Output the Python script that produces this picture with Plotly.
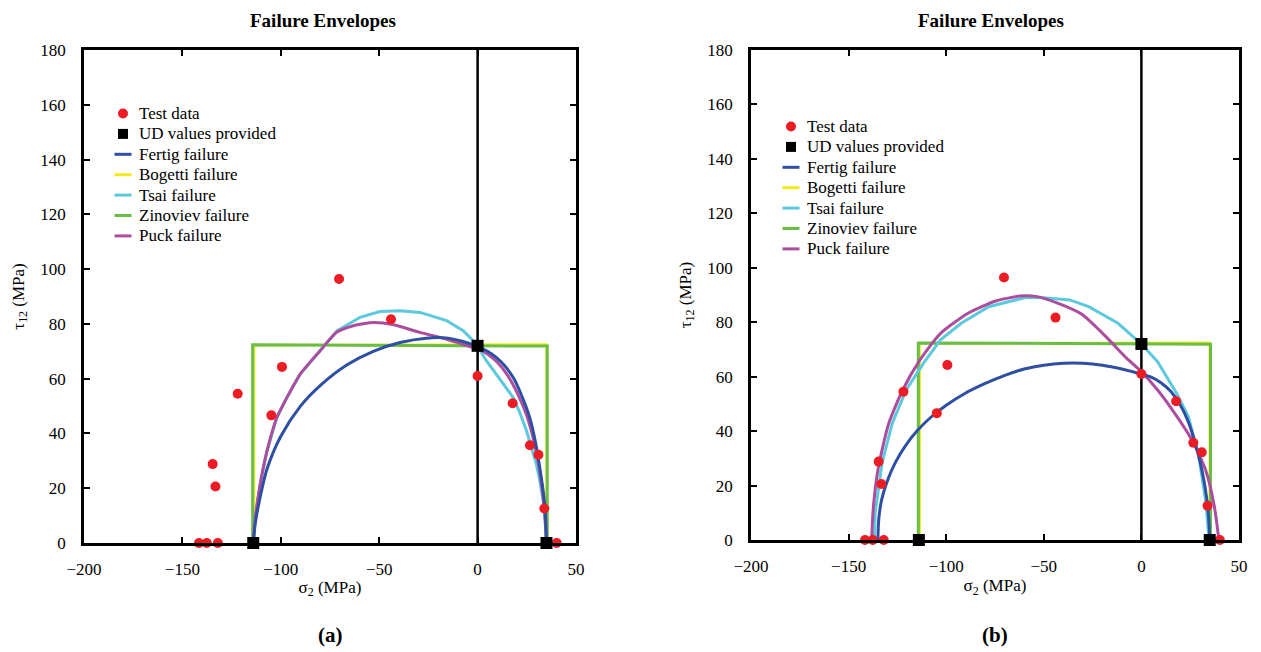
import plotly.graph_objects as go

FONT = "Liberation Serif"

# ---- measured test points (same specimens in both panels) ----
test_s2 = [-141.6, -137.6, -132.0, -134.6, -133.2, -121.9, -104.8, -99.4,
           -70.4, -44.0, 0.0, 17.8, 26.6, 30.9, 33.9, 40.2]
test_t12 = [0, 0, 0, 28.8, 20.6, 54.5, 46.6, 64.3,
            96.4, 81.7, 61.0, 51.0, 35.7, 32.2, 12.6, 0]

# ---- unidirectional strengths supplied ----
ud_s2 = [-114, 0, 35]
ud_t12 = [0, 72, 0]

# ---- Bogetti and Zinoviev envelopes (max-stress boxes) ----
bog_s2 = [-113.6, -113.6, 35.0, 35.0]
bog_t12 = [0, 72.2, 72.5, 0]
zin_s2 = [-114.3, -114.3, 35.4, 35.4]
zin_t12 = [0, 72.4, 71.9, 0]

# ---- panel (a) envelopes ----
fert_a_s2 = [-114, -113, -111, -107, -100, -90, -80, -66.5, -53, -39.4, -26, -15,
             -7, 0, 5, 9.6, 14, 18.1, 22, 26.5, 29.5, 31.6, 33.5, 34.5, 35]
fert_a_t12 = [0, 7, 15, 27, 39, 50, 57.5, 65, 70, 73.2, 74.8, 74.8,
              73.5, 71.8, 70, 67.7, 64.5, 60.4, 54.5, 45.8, 36.5, 27.5, 18, 10, 0]

tsai_a_s2 = [-114, -113, -110.5, -107, -102, -96.9, -90.2, -80, -71.5, -59.7, -49.6,
             -39.4, -29.3, -15.7, -7.3, -1.4, 0, 4, 9.6, 14, 18.1, 21.5, 24.9, 27.5,
             29.9, 31.8, 33.3, 34.3, 35]
tsai_a_t12 = [0, 9, 21.4, 33.6, 45.8, 53.1, 61.6, 70.2, 77.4, 82.4, 84.5,
              84.8, 84.2, 81.2, 77.5, 73.2, 71.8, 67, 61.6, 57, 53.1, 47.5, 40.9, 34.5,
              28.7, 22, 15.3, 8, 0]

puck_a_s2 = [-114, -113, -110.5, -107, -102, -96.9, -90.2, -80, -71.5, -63.1, -53,
             -42.8, -29.3, -15.7, -2.2, 0, 5, 10, 15, 20, 25, 29, 32, 34, 35]
puck_a_t12 = [0, 9, 21.4, 33.6, 45.8, 53.1, 61.6, 70.2, 77, 79.3, 80.5,
              79.7, 76.9, 74.4, 71.4, 71, 69, 66, 61.5, 55, 46.5, 36, 24, 12, 0]

# ---- panel (b) envelopes ----
fert_b_s2 = [-135, -134.5, -133, -130, -126, -121, -115, -108, -100, -90, -80, -70,
             -60, -50, -40, -30, -20, -10, 0, 5, 10, 15, 20, 24, 27, 30, 32, 33.5,
             34.5, 35]
fert_b_t12 = [0, 8, 15, 22, 28.5, 34.5, 40, 45, 49.5, 54, 57.5, 60.5,
              62.8, 64.2, 64.9, 64.9, 64.2, 62.8, 60.9, 59.8, 57.8, 54.6, 49.5, 43.5, 37, 29, 22, 15,
              8, 0]

tsai_b_s2 = [-136.8, -136.4, -132.9, -127.6, -120.5, -111.7, -102.9, -92.3, -78.2, -67.6,
             -58.8, -50, -36.7, -27, -12, 0, 8.3, 18, 24.1, 29.4, 32.9, 34.7]
tsai_b_t12 = [0, 9.8, 28.2, 42.9, 55.1, 64.9, 73.5, 79.6, 85.7, 87.5,
              89.2, 89, 88.2, 85.7, 79.6, 72, 65.5, 53.9, 45.3, 30.6, 14.7, 0]

puck_b_s2 = [-138.2, -137.3, -134.7, -129.4, -122.3, -113.5, -102.9, -88.8, -74.6, -62.3,
             -53.5, -42.9, -30.5, -18.2, -7.6, 0, 8.3, 17.1, 25.9, 32.9, 37.4, 39.7]
puck_b_t12 = [0, 12.2, 26.9, 42.9, 55.1, 66.1, 75.9, 83.3, 87.8, 89.6,
              89.4, 87, 82.9, 74.7, 66.8, 61.8, 55.1, 46.5, 36.7, 25.7, 12.2, 0]

# ---- legend entries ----
legend_names = ["Test data", "UD values provided", "Fertig failure", "Bogetti failure",
                "Tsai failure", "Zinoviev failure", "Puck failure"]

C_RED = "#EC1C24"
C_FERT = "#2F4FA2"
C_BOG = "#F2EA1A"
C_TSAI = "#5DC9DD"
C_ZIN = "#6ABD45"
C_PUCK = "#AC4E9E"
legend_kinds = [("dot", C_RED), ("square", "black"), ("line", C_FERT), ("line", C_BOG),
                ("line", C_TSAI), ("line", C_ZIN), ("line", C_PUCK)]

W, H = 1261, 652


def px_x(p):
    return p / W


def px_y(p):
    return (H - p) / H


panels = [
    dict(xa="x", ya="y", fert=(fert_a_s2, fert_a_t12), tsai=(tsai_a_s2, tsai_a_t12),
         puck=(puck_a_s2, puck_a_t12), tx=323, leg_sym=123, leg_txt=137, leg_y0=113.5),
    dict(xa="x2", ya="y2", fert=(fert_b_s2, fert_b_t12), tsai=(tsai_b_s2, tsai_b_t12),
         puck=(puck_b_s2, puck_b_t12), tx=991, leg_sym=791, leg_txt=805, leg_y0=126.5),
]

fig = go.Figure()
for p in panels:
    common = dict(xaxis=p["xa"], yaxis=p["ya"], cliponaxis=False, showlegend=False,
                  hoverinfo="skip")
    fig.add_trace(go.Scatter(x=bog_s2, y=bog_t12, mode="lines", name="Bogetti failure",
                             line=dict(color=C_BOG, width=2.5), **common))
    fig.add_trace(go.Scatter(x=zin_s2, y=zin_t12, mode="lines", name="Zinoviev failure",
                             line=dict(color=C_ZIN, width=3), **common))
    fig.add_trace(go.Scatter(x=[0, 0], y=[0, 180], mode="lines",
                             line=dict(color="black", width=2.5), **common))
    fig.add_trace(go.Scatter(x=p["tsai"][0], y=p["tsai"][1], mode="lines", name="Tsai failure",
                             line=dict(color=C_TSAI, width=3), **common))
    fig.add_trace(go.Scatter(x=p["puck"][0], y=p["puck"][1], mode="lines", name="Puck failure",
                             line=dict(color=C_PUCK, width=3, shape="spline", smoothing=0.6),
                             **common))
    fig.add_trace(go.Scatter(x=p["fert"][0], y=p["fert"][1], mode="lines", name="Fertig failure",
                             line=dict(color=C_FERT, width=3, shape="spline", smoothing=0.8),
                             **common))
    fig.add_trace(go.Scatter(x=test_s2, y=test_t12, mode="markers", name="Test data",
                             marker=dict(color=C_RED, size=10, symbol="circle"), **common))
    fig.add_trace(go.Scatter(x=ud_s2, y=ud_t12, mode="markers", name="UD values provided",
                             marker=dict(color="black", size=12, symbol="square"), **common))

    # key, drawn in page pixels
    for i, (name, (kind, col)) in enumerate(zip(legend_names, legend_kinds)):
        yy = p["leg_y0"] + i * 20.4
        xs = p["leg_sym"]
        if kind == "dot":
            fig.add_shape(type="circle", xref="paper", yref="paper",
                          x0=px_x(xs - 5), x1=px_x(xs + 5), y0=px_y(yy + 5), y1=px_y(yy - 5),
                          fillcolor=col, line=dict(width=0))
        elif kind == "square":
            fig.add_shape(type="rect", xref="paper", yref="paper",
                          x0=px_x(xs - 5), x1=px_x(xs + 5), y0=px_y(yy + 5), y1=px_y(yy - 5),
                          fillcolor=col, line=dict(width=0))
        else:
            fig.add_shape(type="line", xref="paper", yref="paper",
                          x0=px_x(xs - 8.5), x1=px_x(xs + 8.5), y0=px_y(yy), y1=px_y(yy),
                          line=dict(color=col, width=3))
        fig.add_annotation(text=name, xref="paper", yref="paper", x=px_x(p["leg_txt"]),
                           y=px_y(yy), xanchor="left", yanchor="middle", showarrow=False,
                           font=dict(family=FONT, size=17, color="black"))

    fig.add_annotation(text="<b>Failure Envelopes</b>", xref="paper", yref="paper",
                       x=px_x(p["tx"]), y=px_y(20), xanchor="center", yanchor="middle",
                       showarrow=False, font=dict(family=FONT, size=19, color="black"))

for cx, lab in [(330, "(a)"), (995, "(b)")]:
    fig.add_annotation(text=f"<b>{lab}</b>", xref="paper", yref="paper",
                       x=px_x(cx), y=px_y(635), xanchor="center", yanchor="middle",
                       showarrow=False, font=dict(family=FONT, size=21, color="black"))

fig.update_layout(
    template="none",
    width=W, height=H,
    margin=dict(l=0, r=0, t=0, b=0),
    paper_bgcolor="white", plot_bgcolor="white",
    font=dict(family=FONT, size=17, color="black"),
    xaxis=dict(domain=[px_x(84), px_x(576)], anchor="y"),
    yaxis=dict(domain=[px_y(543), px_y(50)], anchor="x"),
    xaxis2=dict(domain=[px_x(751), px_x(1239)], anchor="y2"),
    yaxis2=dict(domain=[px_y(540), px_y(50)], anchor="x2"),
    showlegend=False,
)

frame = dict(
    showline=True, linecolor="black", linewidth=2.5, mirror="ticks",
    ticks="inside", ticklen=6, tickwidth=2, tickcolor="black",
    showgrid=False, zeroline=False, automargin=False,
)
fig.update_xaxes(frame, range=[-200, 50], tick0=-200, dtick=50, ticklabelstandoff=9,
                 tickfont_family=FONT, tickfont_size=17, tickfont_color="black",
                 title_text="σ<sub>2</sub> (MPa)", title_standoff=3,
                 title_font_family=FONT, title_font_size=17)
fig.update_yaxes(frame, range=[0, 180], tick0=0, dtick=20, ticklabelstandoff=12,
                 tickfont_family=FONT, tickfont_size=17, tickfont_color="black",
                 title_text="τ<sub>12</sub> (MPa)", title_standoff=12,
                 title_font_family=FONT, title_font_size=17)

fig.write_html("out.html")
